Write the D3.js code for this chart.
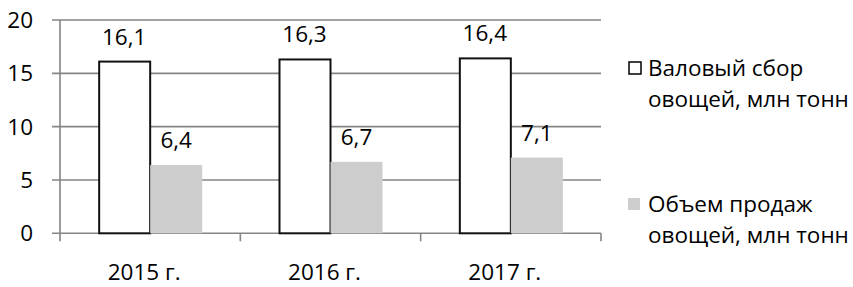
<!DOCTYPE html>
<html><head><meta charset="utf-8">
<script src="https://cdn.jsdelivr.net/npm/d3@7"></script>
<style>body{margin:0;background:#fff}svg{display:block}text{font-family:"Open Sans",Lato,sans-serif;fill:#000}</style>
</head><body><svg id="c" width="853" height="287"></svg>
<script>
const categories = ["2015 г.", "2016 г.", "2017 г."];
const seriesNames = ["Валовый сбор овощей, млн тонн", "Объем продаж овощей, млн тонн"];
const gross = [16.1, 16.3, 16.4];
const sales = [6.4, 6.7, 7.1];
const yTicks = [0, 5, 10, 15, 20];
const legendLines = [["Валовый сбор", "овощей, млн тонн"], ["Объем продаж", "овощей, млн тонн"]];

const svg = d3.select("#c");
const L = 60, R = 601, T = 20, B = 233.3;
const fs = 22.5;
const x = d3.scaleBand().domain(categories).range([L, R]).paddingInner(0).paddingOuter(0);
const y = d3.scaleLinear().domain([0, 20]).range([B, T]);
const inner = d3.scaleBand().domain([0, 1]).range([0, 104]);
const groupOff = (x.bandwidth() - 104) / 2;
const gridCol = "#858585";

// gridlines
svg.append("g").selectAll("line").data(yTicks).join("line")
  .attr("x1", L - 8).attr("x2", R).attr("y1", d => y(d)).attr("y2", d => y(d))
  .attr("stroke", gridCol).attr("stroke-width", 1.6);
// y axis line
svg.append("line").attr("x1", L).attr("x2", L).attr("y1", T).attr("y2", B + 8)
  .attr("stroke", gridCol).attr("stroke-width", 1.6);
// x ticks
const bounds = categories.map(c => x(c) + x.bandwidth());
svg.append("g").selectAll("line").data(bounds).join("line")
  .attr("x1", d => d).attr("x2", d => d).attr("y1", B).attr("y2", B + 8)
  .attr("stroke", gridCol).attr("stroke-width", 1.6);
// y tick labels
svg.append("g").selectAll("text").data(yTicks).join("text")
  .attr("x", 33).attr("y", d => y(d)).attr("dy", "0.36em").attr("text-anchor", "end")
  .style("font-size", fs + "px").text(d => d);
// x labels
svg.append("g").selectAll("text").data(categories).join("text")
  .attr("x", d => x(d) + x.bandwidth() / 2 - 6).attr("y", 280).attr("text-anchor", "middle")
  .style("font-size", fs + "px").text(d => d);

const fmt = v => String(v).replace(".", ",");
const series = [gross, sales];
series.forEach((vals, si) => {
  const g = svg.append("g");
  g.selectAll("rect").data(vals).join("rect")
    .attr("x", (d, i) => x(categories[i]) + groupOff + inner(si) + (si === 0 ? 1 : 0))
    .attr("width", inner.bandwidth() - (si === 0 ? 1 : 0))
    .attr("y", d => y(d)).attr("height", d => B - y(d))
    .attr("fill", si === 0 ? "#fff" : "#cdcdcd")
    .attr("stroke", si === 0 ? "#111" : "none").attr("stroke-width", 2);
  g.selectAll("text").data(vals).join("text")
    .attr("x", (d, i) => x(categories[i]) + groupOff + inner(si) + inner.bandwidth() / 2)
    .attr("y", d => y(d) - 17).attr("text-anchor", "middle")
    .style("font-size", fs + "px").text(fmt);
});

// legend
const legY = [76, 212];
legendLines.forEach((lines, i) => {
  const g = svg.append("g");
  if (i === 0) g.append("rect").attr("x", 629).attr("y", legY[i] - 14).attr("width", 12).attr("height", 12)
      .attr("fill", "#fff").attr("stroke", "#111").attr("stroke-width", 1.6);
  else g.append("rect").attr("x", 628).attr("y", legY[i] - 14).attr("width", 12).attr("height", 12)
      .attr("fill", "#cdcdcd");
  lines.forEach((t, j) => g.append("text").attr("x", 648).attr("y", legY[i] + j * 31)
      .style("font-size", fs + "px").text(t));
});
</script></body></html>
